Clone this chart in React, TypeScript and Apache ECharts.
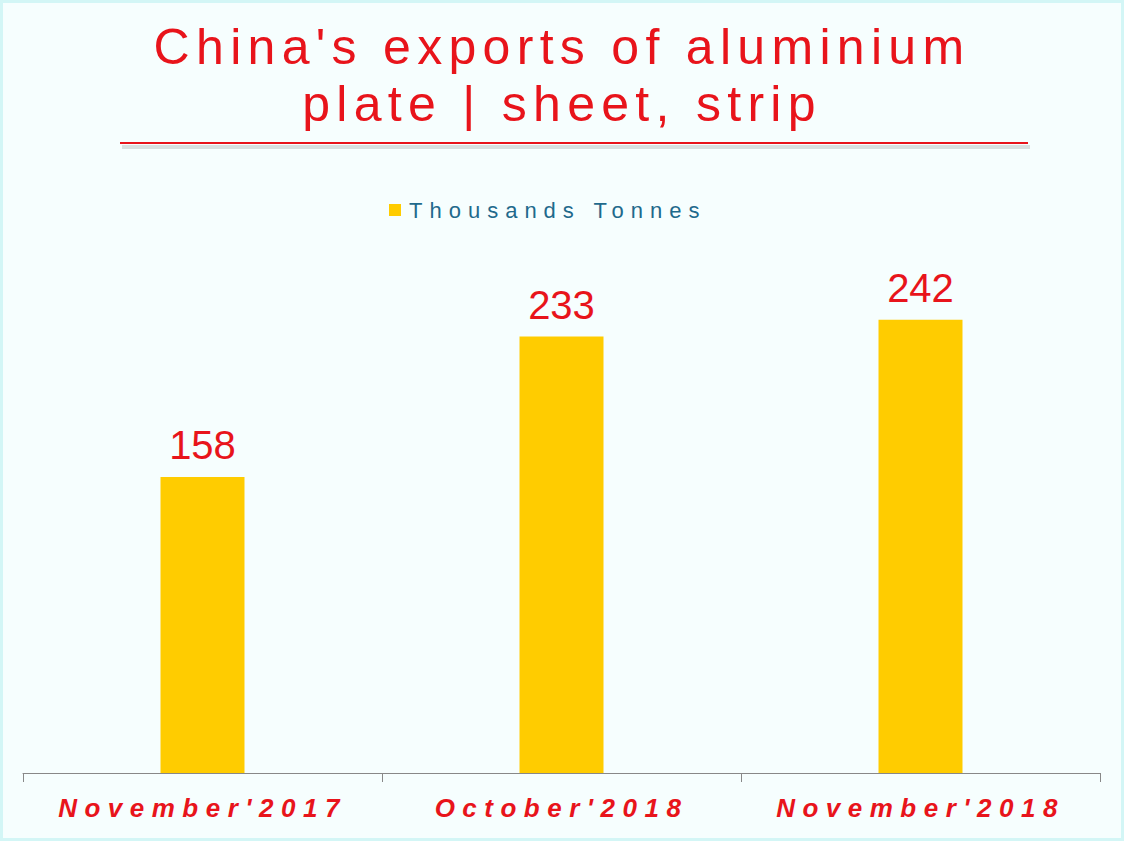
import React, { useEffect, useRef } from "react";
import * as echarts from "echarts";

const categories = ["November'2017", "October'2018", "November'2018"];
const values = [158, 233, 242];
const seriesName = "Thousands Tonnes";
const titleLines = ["China's exports of aluminium", "plate | sheet, strip"];

export default function App() {
  const ref = useRef<HTMLDivElement>(null);
  useEffect(() => {
    document.body.style.margin = "0";
    const chart = echarts.init(ref.current!, null, { renderer: "svg" });
    chart.setOption({
      animation: false,
      backgroundColor: "transparent",
      title: {
        text: titleLines.join("\n"),
        left: "center",
        top: 13,
        textStyle: {
          color: "#E8141B",
          fontSize: 50,
          fontWeight: "normal",
          fontFamily: "Liberation Sans, Arial, sans-serif",
          lineHeight: 57,
        },
      },
      legend: {
        data: [seriesName],
        top: 194,
        left: 384,
        icon: "rect",
        itemWidth: 12,
        itemHeight: 12,
        textStyle: {
          color: "#1F6A8C",
          fontSize: 22,
          fontFamily: "Liberation Sans, Arial, sans-serif",
          padding: [0, 0, 0, 3],
        },
      },
      grid: { left: 23, right: 24, top: 211, bottom: 68, containLabel: false },
      xAxis: {
        type: "category",
        data: categories,
        axisLine: { lineStyle: { color: "#888888", width: 1 } },
        axisTick: { show: true, length: 9, lineStyle: { color: "#888888" } },
        axisLabel: {
          color: "#E8141B",
          fontSize: 26,
          fontStyle: "italic",
          fontWeight: "bold",
          fontFamily: "Liberation Sans, Arial, sans-serif",
          margin: 22,
        },
      },
      yAxis: {
        type: "value",
        min: 0,
        max: 300,
        show: false,
        splitLine: { show: false },
      },
      series: [
        {
          name: seriesName,
          type: "bar",
          data: values,
          barWidth: "23.4%",
          itemStyle: { color: "#FFCC00" },
          label: {
            show: true,
            position: "top",
            distance: 12,
            color: "#E8141B",
            fontSize: 40,
            fontFamily: "Liberation Sans, Arial, sans-serif",
          },
        },
      ],
      graphic: [
        {
          type: "line",
          shape: { x1: 122, y1: 147, x2: 1030, y2: 147 },
          style: { stroke: "rgba(0,0,0,0.12)", lineWidth: 4 },
        },
        {
          type: "line",
          shape: { x1: 120, y1: 143, x2: 1028, y2: 143 },
          style: { stroke: "#E8141B", lineWidth: 2 },
        },
      ],
    });
    return () => chart.dispose();
  }, []);
  return (
    <div
      style={{
        width: 1124,
        height: 841,
        boxSizing: "border-box",
        border: "3px solid #D3F6F6",
        background: "#F6FEFE",
        position: "relative",
      }}
    >
      <style>{`
        .chartbox text[style*="50px"] { letter-spacing: 6.3px; }
        .chartbox text[style*="26px"] { letter-spacing: 7.5px; }
        .chartbox text[style*="22px"] { letter-spacing: 7px; }
      `}</style>
      <div
        ref={ref}
        className="chartbox"
        style={{ position: "absolute", left: -3, top: -3, width: 1124, height: 841 }}
      />
    </div>
  );
}
